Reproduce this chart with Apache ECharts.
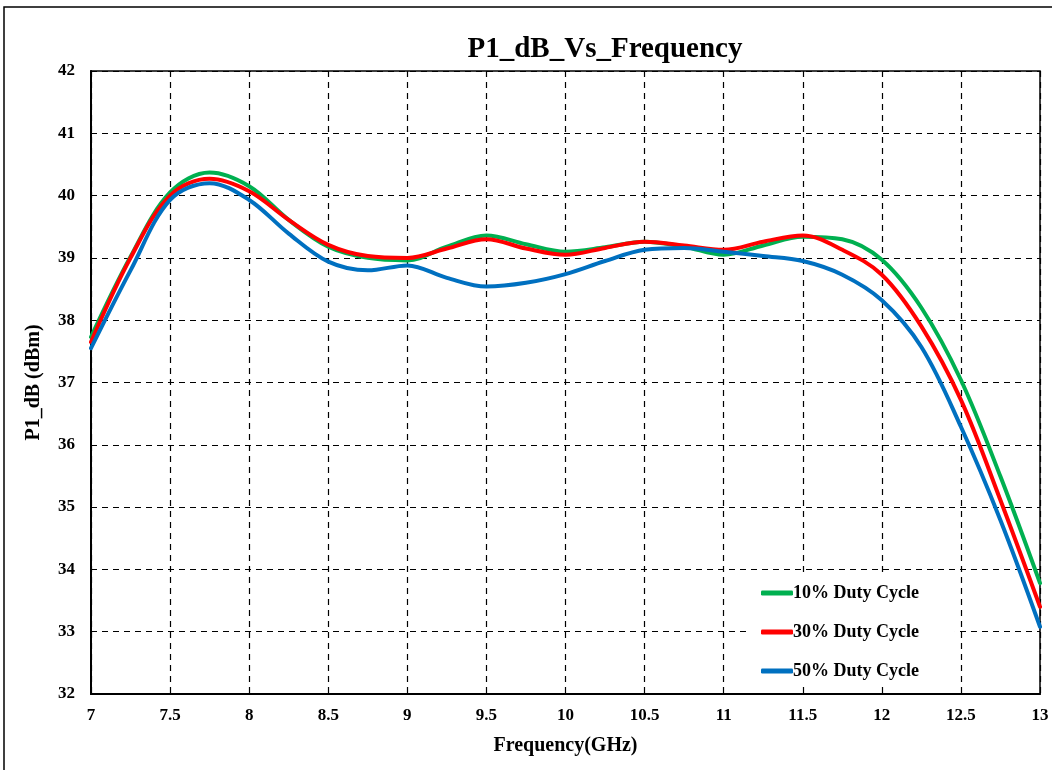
<!DOCTYPE html>
<html>
<head>
<meta charset="utf-8">
<script src="https://cdn.jsdelivr.net/npm/echarts@6/dist/echarts.min.js"></script>
<style>
  html, body { margin: 0; padding: 0; background: #fff; }
  #chart { width: 1052px; height: 770px; }
</style>
</head>
<body>
<div id="chart"></div>
<script>
// frequency points (GHz)
var freq = [7, 7.25, 7.5, 7.75, 8, 8.25, 8.5, 8.75, 9, 9.25, 9.5, 9.75, 10, 10.25, 10.5, 10.75, 11, 11.25, 11.5, 11.75, 12, 12.25, 12.5, 12.75, 13];

// P1dB values (dBm)
var duty10 = [37.73, 39.02, 40.05, 40.37, 40.15, 39.61, 39.18, 39.0, 38.96, 39.18, 39.36, 39.22, 39.1, 39.17, 39.26, 39.18, 39.05, 39.2, 39.34, 39.3, 38.97, 38.2, 37.04, 35.49, 33.78];
var duty30 = [37.65, 39.0, 40.0, 40.27, 40.07, 39.61, 39.21, 39.03, 39.0, 39.15, 39.3, 39.15, 39.05, 39.16, 39.26, 39.2, 39.13, 39.26, 39.36, 39.13, 38.73, 37.9, 36.72, 35.11, 33.4];
var duty50 = [37.55, 38.8, 39.93, 40.2, 39.93, 39.39, 38.94, 38.8, 38.88, 38.68, 38.54, 38.6, 38.74, 38.95, 39.13, 39.16, 39.1, 39.03, 38.95, 38.73, 38.32, 37.57, 36.29, 34.79, 33.08];

var seriesNames = ['10% Duty Cycle', '30% Duty Cycle', '50% Duty Cycle'];
var seriesColors = ['#00B050', '#FF0000', '#0070C0'];

function pairs(ys) {
    return freq.map(function (f, i) { return [f, ys[i]]; });
}

var font = 'Liberation Serif, Times New Roman, serif';

var chart = echarts.init(document.getElementById('chart'));

var option = {
    animation: false,
    backgroundColor: '#fff',
    textStyle: { fontFamily: font },
    graphic: [{
        type: 'rect',
        shape: { x: 4, y: 7, width: 1100, height: 800 },
        style: { fill: 'none', stroke: '#000', lineWidth: 1.5 },
        silent: true
    }],
    title: {
        text: 'P1_dB_Vs_Frequency',
        left: 600,
        top: 30,
        textAlign: 'center',
        textStyle: { fontFamily: font, fontSize: 29, fontWeight: 'bold', color: '#000' }
    },
    legend: {
        orient: 'vertical',
        left: 749,
        top: 576,
        padding: [8, 36, 6, 12],
        backgroundColor: '#fff',
        itemGap: 21,
        itemWidth: 32,
        itemHeight: 5,
        icon: 'roundRect',
        data: seriesNames,
        textStyle: { fontFamily: font, fontSize: 18, fontWeight: 'bold', color: '#000', padding: [0, 0, 0, -5] }
    },
    grid: {
        left: 91,
        right: 12,
        top: 71,
        bottom: 76,
        show: true,
        borderColor: '#000',
        borderWidth: 1.5,
        containLabel: false
    },
    xAxis: {
        type: 'value',
        min: 7,
        max: 13,
        interval: 0.5,
        name: 'Frequency(GHz)',
        nameLocation: 'middle',
        nameGap: 42,
        nameTextStyle: { fontFamily: font, fontSize: 20, fontWeight: 'bold', color: '#000' },
        axisLine: { lineStyle: { color: '#000', width: 2 } },
        axisTick: { show: false },
        axisLabel: { fontFamily: font, fontSize: 17, fontWeight: 'bold', color: '#000', margin: 13 },
        splitLine: { show: true, lineStyle: { color: '#000', type: [6, 5], width: 1.2 } }
    },
    yAxis: {
        type: 'value',
        min: 32,
        max: 42,
        interval: 1,
        name: 'P1_dB (dBm)',
        nameLocation: 'middle',
        nameGap: 47,
        nameTextStyle: { fontFamily: font, fontSize: 20, fontWeight: 'bold', color: '#000' },
        axisLine: { show: true, lineStyle: { color: '#000', width: 2 } },
        axisTick: { show: false },
        axisLabel: { fontFamily: font, fontSize: 17, fontWeight: 'bold', color: '#000', margin: 16 },
        splitLine: { show: true, lineStyle: { color: '#000', type: [6, 5], width: 1.2 } }
    },
    series: [duty10, duty30, duty50].map(function (ys, i) {
        return {
            name: seriesNames[i],
            type: 'line',
            data: pairs(ys),
            smooth: 0.35,
            showSymbol: false,
            color: seriesColors[i],
            lineStyle: { width: 4, color: seriesColors[i], cap: 'round' }
        };
    })
};

chart.setOption(option);
</script>
</body>
</html>
